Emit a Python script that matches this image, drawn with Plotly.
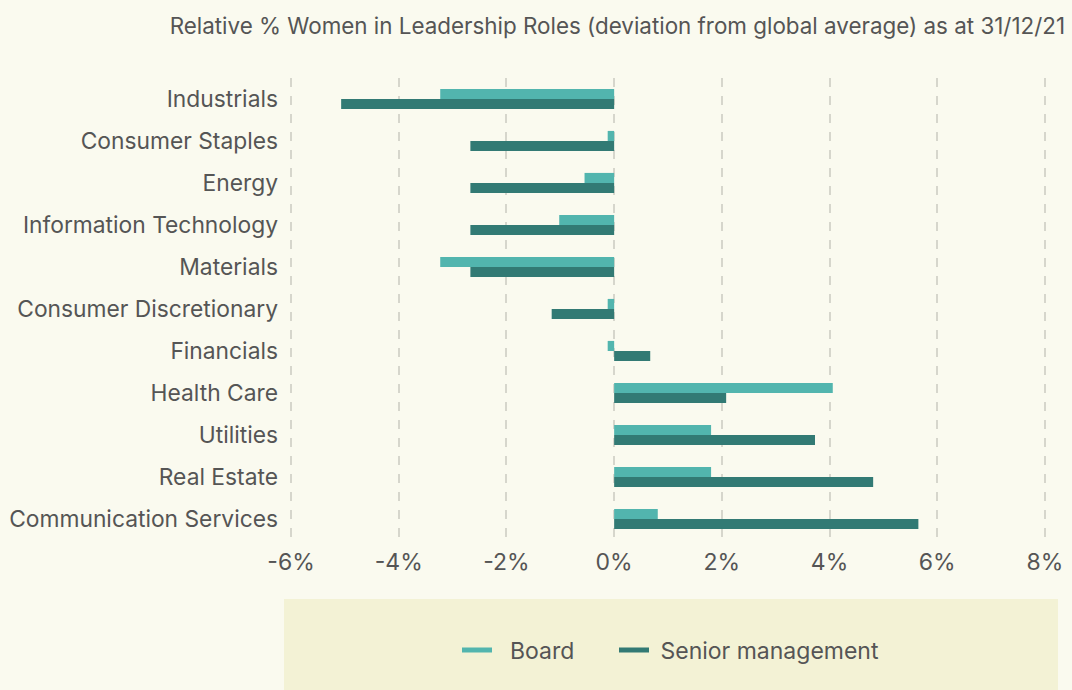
import plotly.graph_objects as go

categories = ["Industrials", "Consumer Staples", "Energy", "Information Technology",
              "Materials", "Consumer Discretionary", "Financials", "Health Care",
              "Utilities", "Real Estate", "Communication Services"]
board = [-3.23, -0.12, -0.55, -1.02, -3.23, -0.12, -0.12, 4.06, 1.80, 1.80, 0.81]
senior = [-5.07, -2.67, -2.67, -2.67, -2.67, -1.16, 0.67, 2.08, 3.73, 4.81, 5.65]
tick_vals = [-6, -4, -2, 0, 2, 4, 6, 8]
tick_text = ["-6%", "-4%", "-2%", "0%", "2%", "4%", "6%", "8%"]

BOARD_C = "#52b5ae"
SENIOR_C = "#327a74"
TEXT_C = "#555555"
FONT = "Inter"
NB = "\u00a0"

fig = go.Figure()
fig.add_trace(go.Bar(y=categories, x=board, orientation="h", name="Board",
                     marker=dict(color=BOARD_C, line=dict(width=0)), showlegend=False))
fig.add_trace(go.Bar(y=categories, x=senior, orientation="h", name="Senior management",
                     marker=dict(color=SENIOR_C, line=dict(width=0)), showlegend=False))
# legend entries as line symbols
fig.add_trace(go.Scatter(x=[None], y=[None], mode="lines", name=NB * 2 + "Board",
                         line=dict(color=BOARD_C, width=5), legend="legend"))
fig.add_trace(go.Scatter(x=[None], y=[None], mode="lines", name=NB + "Senior management",
                         line=dict(color=SENIOR_C, width=5), legend="legend2"))

W, H = 1072.0, 690.0
L, R = 290, 26
PW = W - L - R
leg_common = dict(orientation="h", xanchor="left", xref="container", yref="container",
                  y=1 - 650 / H, yanchor="middle",
                  bgcolor="rgba(0,0,0,0)", font=dict(size=23, color=TEXT_C),
                  itemwidth=30)

fig.update_layout(
    width=1072, height=690,
    margin=dict(l=L, r=R, t=78, b=150, autoexpand=False),
    paper_bgcolor="#fafaef",
    plot_bgcolor="#fafaef",
    barmode="group", bargap=0.52, bargroupgap=0,
    font=dict(family=FONT, color=TEXT_C, size=22),
    title=dict(text="Relative % Women in Leadership Roles (deviation from global average) as at 31/12/21",
               x=1065 / W, xanchor="right", xref="container", y=0.962, yanchor="middle",
               font=dict(size=22.4, color=TEXT_C, family=FONT)),
    xaxis=dict(range=[-6.02, 8.02], tickvals=tick_vals, ticktext=tick_text,
               showgrid=True, gridcolor="#d6d6cc", griddash="dash", gridwidth=1.5,
               zeroline=False, showline=False, ticks="", tickfont=dict(size=23),
               ticklabelstandoff=6, fixedrange=True, automargin=False),
    yaxis=dict(categoryorder="array", categoryarray=categories, autorange="reversed",
               showgrid=False, zeroline=False, showline=False, ticks="",
               ticklabelstandoff=11, tickfont=dict(size=22.8), automargin=False),
    legend=dict(x=457 / W, **leg_common),
    legend2=dict(x=614 / W, **leg_common),
    shapes=[dict(type="rect", xref="paper", yref="paper",
                 x0=(284 - L) / PW, x1=(1058 - L) / PW,
                 y0=(540 - 700) / 462, y1=(540 - 599) / 462,
                 fillcolor="#f3f2d5", line=dict(width=0), layer="below")],
)

fig.write_html("out.html", config={"displayModeBar": False},
               post_script="document.body.style.margin='0';document.body.style.background='#fafaef';")
